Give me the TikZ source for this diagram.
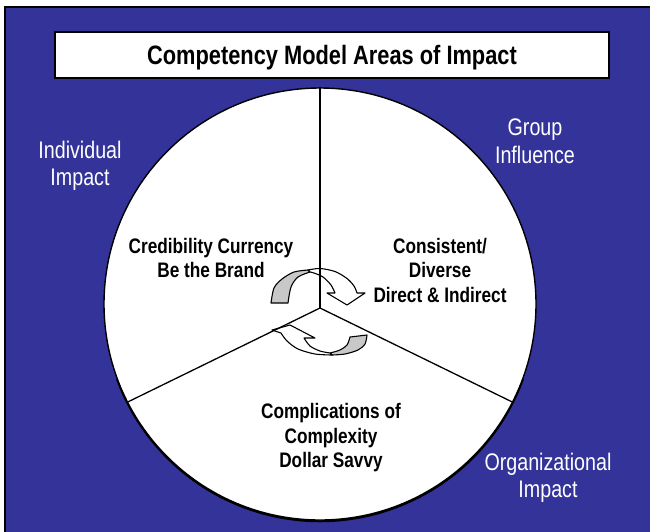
\documentclass[tikz,border=0pt]{standalone}
\usepackage{fontspec}
\setmainfont{Liberation Sans}[FakeStretch=0.82]
\definecolor{bgblue}{RGB}{51,51,153}
\definecolor{arrowgrey}{RGB}{200,200,200}
\begin{document}
\begin{tikzpicture}[x=1pt,y=-1pt,
  lbl/.style={text=white, align=center, font=\fontsize{24}{27.5}\selectfont, inner sep=0pt},
  sector/.style={text=black, align=center, font=\bfseries\fontsize{21}{24.5}\selectfont, inner sep=0pt},
  spoke/.style={draw=black, line width=1.3pt},
  ribbon/.style={draw=black, line width=1.1pt, line join=round}]
\useasboundingbox (0,0) rectangle (650,531);
\fill[white] (0,0) rectangle (650,531);
\draw[fill=bgblue, line width=1.5pt] (5,7) rectangle (660,540);
\node[draw, fill=white, line width=1.3pt, minimum width=554pt, minimum height=46pt, inner sep=0pt,
  text depth=0pt, font=\bfseries\fontsize{26.6}{30}\selectfont] (title) at (332,55) {Competency Model Areas of Impact};
% faint shadow along the lower rim of the circle
\draw[black, line width=2pt] (320,305.2) ++(20:216) arc[start angle=20, end angle=160, radius=216];
\node[circle, draw, fill=white, line width=1.4pt, minimum size=432pt, inner sep=0pt] (circ) at (320,304) {};
\coordinate (hub) at (320,308);
% upper curved arrow
\draw[ribbon, fill=arrowgrey] plot[smooth] coordinates {(271,303) (274,288) (282,279) (294,272) (308,270)}
  -- plot[smooth] coordinates {(310,272) (298,277) (291,287) (288,303)} -- cycle;
\draw[ribbon, fill=white] plot[smooth] coordinates {(308,270) (320,268.5) (335,271.5) (347,278.5) (354,286) (357,293)}
  -- (365,293) -- (347,305) -- (327,293)
  -- plot[smooth] coordinates {(335,293) (331,285) (323,277) (314,273) (310,272)} -- cycle;
% lower curved arrow
\draw[ribbon, fill=arrowgrey] (350,337)
  -- plot[smooth] coordinates {(367,335) (365,344) (358,350) (345,354) (332,355)}
  -- plot[smooth] coordinates {(330,353) (340,350) (347,345) (350,337)} -- cycle;
\draw[ribbon, fill=white] plot[smooth] coordinates {(332,355) (315,354) (298,349) (287,341) (281,333)}
  -- (272,330) -- (290,325) -- (315,338)
  -- plot[smooth] coordinates {(304,338) (310,346) (320,351) (330,353)} -- cycle;
% spokes
\draw[spoke] (hub) -- (circ.90);
\draw[spoke] (hub) -- (circ.207);
\draw[spoke] (hub) -- (circ.-27);
% texts
\node[sector] (cred) at (211,258) {Credibility Currency\\Be the Brand};
\node[sector] (cons) at (440,270) {Consistent/\\Diverse\\Direct \& Indirect};
\node[sector] (comp) at (331,438) {Complications of\\Complexity\\Dollar Savvy};
\node[lbl] (ind) at (80,166) {Individual\\Impact};
\node[lbl] (grp) at (535,141) {Group\\Influence};
\node[lbl] (org) at (548,478) {Organizational\\Impact};
\end{tikzpicture}
\end{document}
